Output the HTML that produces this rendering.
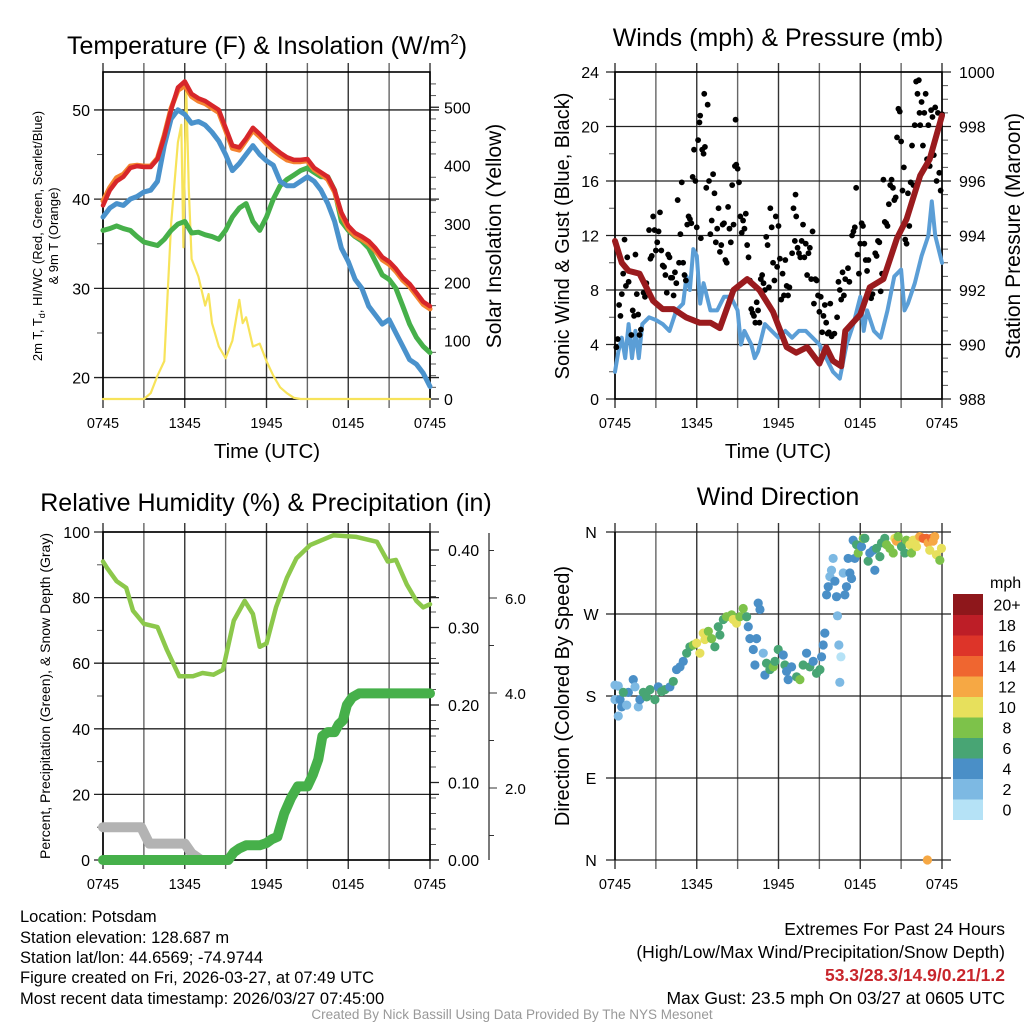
<!DOCTYPE html>
<html><head><meta charset="utf-8"><style>
html,body{margin:0;padding:0;background:#fff;}
svg{display:block;font-family:"Liberation Sans",sans-serif;}
</style></head><body>
<svg id="fig" width="1024" height="1024" viewBox="0 0 1024 1024" xmlns="http://www.w3.org/2000/svg">
<rect width="1024" height="1024" fill="#fff"/>
<g id="layer"></g>
<!-- titles -->
<text x="267" y="54" font-size="25" text-anchor="middle">Temperature (F) &amp; Insolation (W/m<tspan font-size="15" dy="-10">2</tspan><tspan dy="10">)</tspan></text>
<text x="778" y="46" font-size="25" text-anchor="middle">Winds (mph) &amp; Pressure (mb)</text>
<text x="266" y="511" font-size="25" text-anchor="middle">Relative Humidity (%) &amp; Precipitation (in)</text>
<text x="778" y="505" font-size="25" text-anchor="middle">Wind Direction</text>
<!-- axis titles -->
<text x="267" y="458" font-size="20.5" text-anchor="middle">Time (UTC)</text>
<text x="778" y="458" font-size="20.5" text-anchor="middle">Time (UTC)</text>
<text transform="translate(42,236) rotate(-90)" font-size="13" text-anchor="middle">2m T, T<tspan font-size="9" dy="3">d</tspan><tspan dy="-3">, HI/WC (Red, Green, Scarlet/Blue)</tspan></text>
<text transform="translate(58,236) rotate(-90)" font-size="13" text-anchor="middle">&amp; 9m T (Orange)</text>
<text transform="translate(501,236) rotate(-90)" font-size="21" text-anchor="middle">Solar Insolation (Yellow)</text>
<text transform="translate(569,236) rotate(-90)" font-size="20" text-anchor="middle">Sonic Wind &amp; Gust (Blue, Black)</text>
<text transform="translate(1020,236) rotate(-90)" font-size="21" text-anchor="middle">Station Pressure (Maroon)</text>
<text transform="translate(50,696) rotate(-90)" font-size="14" text-anchor="middle">Percent, Precipitation (Green), &amp; Snow Depth (Gray)</text>
<text transform="translate(569,696) rotate(-90)" font-size="20" text-anchor="middle">Direction (Colored By Speed)</text>
<!-- footer -->
<g font-size="16.5">
<text x="20" y="922">Location: Potsdam</text>
<text x="20" y="943">Station elevation: 128.687 m</text>
<text x="20" y="963">Station lat/lon: 44.6569; -74.9744</text>
<text x="20" y="983">Figure created on Fri, 2026-03-27, at 07:49 UTC</text>
<text x="20" y="1004">Most recent data timestamp: 2026/03/27 07:45:00</text>
</g>
<g font-size="17.5" text-anchor="end">
<text x="1005" y="935">Extremes For Past 24 Hours</text>
<text x="1005" y="958">(High/Low/Max Wind/Precipitation/Snow Depth)</text>
<text x="1005" y="981" fill="#c8262c" font-weight="bold">53.3/28.3/14.9/0.21/1.2</text>
<text x="1005" y="1004">Max Gust: 23.5 mph On 03/27 at 0605 UTC</text>
</g>
<text x="512" y="1019" font-size="13.5" fill="#999" text-anchor="middle">Created By Nick Bassill Using Data Provided By The NYS Mesonet</text>
</svg>
<script>
// ---- data ----
const xTickLabels = ["0745","1345","1945","0145","0745"];
const tempTimes = [0,0.5,1,1.5,2,2.5,3,3.5,4,4.5,5,5.5,6,6.5,7,7.5,8,8.5,9,9.5,10,10.5,11,11.5,12,12.5,13,13.5,14,14.5,15,15.5,16,16.5,17,17.5,18,18.5,19,19.5,20,20.5,21,21.5,22,22.5,23,23.5,24];
const tempRed = [39.3,41,42,42.5,43.5,43.7,43.6,43.6,44.5,47,50,52.5,53.2,51.8,51.3,51,50.5,50,48,46,45.8,46.8,48,47.3,46.5,45.8,45.2,44.7,44.4,44.4,44.5,43.5,43,42.5,41,38.5,37,36.2,35.8,35.3,34.5,33.5,33,32.2,31.2,30.5,29.5,28.5,28];
const tempOrange = [39.8,41.3,42.4,42.8,43.7,43.8,43.7,43.7,44.6,47.2,50.2,52.2,52.7,51.5,51,50.7,50.2,49.7,47.7,45.7,45.5,46.6,47.7,47,46.2,45.5,44.9,44.4,44.2,44.2,44.3,43.3,42.8,42.2,40.8,38.2,36.7,35.9,35.5,35,34.2,33.2,32.7,31.9,30.9,30.2,29.2,28.2,27.7];
const tempBlue = [38,39,39.5,39.3,40,40.3,40.8,41,42,46,49,50,49.5,48.5,48.7,48.3,47.5,46.5,45,43.2,44,45,46,45,44.3,43.8,42,41.5,41.5,42,42.5,42,41,39.5,37.5,34.5,33,31,30,28,27,26,26.5,25,23.5,22,21.5,20.5,19];
const tempGreen = [36.5,36.7,37,36.7,36.5,35.8,35.2,35,34.8,35.5,36.5,37.2,37.5,36.2,36.3,36,35.8,35.5,36.5,38,39,39.5,37.5,36.5,38,40,41.5,42.2,42.7,43.2,43.5,43,42.5,42.5,41,37.5,36.5,35.8,35.3,34.5,33,31.5,31,30,28,26,24.5,23.5,22.8];
const solarTimes = [0,3,3.5,4,4.5,5,5.5,5.75,5.9,6.1,6.3,6.5,7,7.5,7.75,8,8.5,9,9.5,10,10.25,10.5,11,11.5,12,12.5,13,13.5,14,14.5,24];
const solarVals = [0,0,10,40,65,300,440,470,260,540,360,240,210,160,180,130,90,70,100,170,130,140,90,95,65,40,20,10,2,0,0];
const windTimes = [0,0.25,0.5,0.75,1,1.25,1.5,1.75,2,2.5,3,3.5,4,4.5,5,5.25,5.5,5.75,6,6.25,6.5,7,7.5,8,8.5,9,9.25,9.5,10,10.25,10.5,11,11.5,12,12.5,13,13.5,14,14.5,15,15.5,16,16.5,17,17.5,18,18.25,18.5,19,19.5,20,20.5,21,21.25,21.5,22,22.5,23,23.25,23.5,24];
const windSpeed = [2,3.5,4.5,3,5.5,3,5,3,5.5,6,5.8,5.5,5,6.5,7,9,8,11,10.5,7,8.5,6.5,6.5,7.5,7.5,6.5,4,5,4,3,3.5,5.5,5,4.5,5,4.5,5,5,4.5,4,3,2,1.5,4,5.5,7.5,5,6.5,5,4.5,6.5,9,9.5,6.5,7,8.5,10.5,12,14.5,12,10];
const presTimes = [0,0.5,1,1.8,2.8,3.5,4.3,5.2,6.2,7,7.7,8.7,9.7,10.6,11.6,12.6,13.3,14.1,15,15.5,16,16.6,16.9,18,18.7,19.7,20.7,21.4,22.4,23.1,24];
const presVals = [993.8,993,992.7,992.6,991.6,991.3,991.3,991,990.8,990.8,990.6,992,992.4,992,991.2,989.9,989.7,989.9,989.3,989.9,989.4,989.2,990.5,991.1,992.1,992.4,993.9,994.6,996.2,996.8,998.4];
const gustTimes = [0.1,0.2,0.3,0.4,0.5,0.6,0.7,0.8,0.9,1,1.2,1.3,1.4,1.5,1.6,1.7,1.8,1.9,2.1,2.2,2.3,2.5,2.6,2.7,2.8,2.9,3,3.1,3.2,3.3,3.4,3.5,3.6,3.7,3.8,3.9,4,4.1,4.2,4.3,4.4,4.5,4.6,4.7,4.8,4.9,5,5.1,5.2,5.3,5.4,5.5,5.6,5.7,5.8,5.9,6,6.1,6.2,6.25,6.3,6.4,6.5,6.55,6.6,6.7,6.8,6.9,7,7.1,7.2,7.3,7.4,7.5,7.6,7.7,7.8,7.9,8,8.1,8.2,8.3,8.4,8.5,8.6,8.7,8.8,8.85,8.9,9,9.1,9.2,9.3,9.4,9.5,9.6,9.7,9.8,9.9,10,10.1,10.2,10.3,10.4,10.5,10.6,10.7,10.8,10.9,11,11.1,11.2,11.3,11.4,11.5,11.6,11.7,11.8,11.9,12,12.1,12.2,12.3,12.4,12.5,12.6,12.7,12.8,13,13.1,13.2,13.25,13.3,13.4,13.5,13.6,13.7,13.8,13.9,14,14.1,14.2,14.3,14.4,14.5,14.6,14.7,14.8,14.9,15,15.1,15.2,15.3,15.4,15.5,15.6,15.7,15.8,15.9,16.1,16.3,16.4,16.5,16.6,16.7,16.8,16.9,17.1,17.2,17.4,17.5,17.6,17.7,17.8,17.9,18,18.1,18.2,18.3,18.4,18.5,18.6,18.7,18.8,18.9,19.1,19.2,19.3,19.4,19.5,19.6,19.7,19.8,19.9,20,20.1,20.2,20.3,20.4,20.5,20.6,20.7,20.8,20.9,21,21.1,21.2,21.3,21.4,21.5,21.6,21.7,21.8,21.9,22,22.1,22.2,22.3,22.35,22.4,22.5,22.6,22.7,22.8,22.9,23,23.1,23.2,23.3,23.4,23.5,23.6,23.7,23.8,23.9,24];
const gustVals = [3.8,4.4,6.9,6.1,7.7,9.2,11.7,8.3,10.4,8.6,4.7,6.5,6.1,10.6,7.7,6.2,4.7,5.1,7.8,7.5,8.5,12.4,10.3,10.5,13.4,12.4,10.9,11.5,12.3,13.7,10.9,9.8,9.7,9.1,7.8,10.6,10.4,8.9,8.9,7.6,9.3,8.5,14.6,10,12.1,15.9,10,9.1,8.7,12.8,13.4,13.2,12.9,16.3,18.3,16,12.6,19,20.3,20.8,11.8,18.3,18,22.4,18.5,15.5,21.6,16,12.1,13.1,16.5,15.1,11.5,12.5,14,10.8,11.3,12.8,12.9,10.2,10,14.1,12.5,11.5,15.7,12.8,17.1,20.5,17.2,16.9,15.9,13.4,12.2,13.1,12.5,13.6,11.3,10.4,8.7,6.6,6.3,6.1,5.6,7.1,6.5,5.6,8.8,9.1,8.5,8,11.9,11.3,8.2,14,12.6,10,8.7,13.4,9.7,12.7,10.3,7.3,9.2,7.6,10.2,8.3,7.6,8.2,10.7,14,11.6,15,13.4,11.1,10.7,10.4,11.6,12.8,10.4,11.4,9.1,10.7,11.1,8.8,12.3,7,8.8,8.7,7.6,6.4,7.5,4.9,6.1,6.9,5.6,4.8,4.9,7,4.6,4.8,6,8.6,8,7.3,9.3,7.6,8.8,9.6,8.6,12,12.3,12.6,15.5,10.6,9.2,11.4,12.9,12.7,11.4,10.2,9.4,10.2,8.1,7.4,7.7,10.7,10.5,11.6,11.5,7.9,9.2,16.1,13,12.9,12.7,14.3,15.7,16.1,15.5,14.6,14.8,19.2,21.3,21.1,18.9,15.3,17,11.7,11.4,15.1,12.7,15.9,18.6,15.7,20.1,23.3,22.4,23.4,21,20.1,21.8,18.6,21,22.4,17.6,20.1,17.1,21.2,20.7,17.9,21.4,16,21,16.6,15.3,20.9];
const rhTimes = [0,0.3,1,1.7,2.2,3,4,4.7,5.6,6.6,7.3,8.1,8.8,9.6,10.4,11,11.5,12,12.7,13.5,14.2,15.2,16.9,18.6,20.1,20.9,21.5,22.3,23,23.5,24];
const rhVals = [91,89,85,83,76,72,71,64,56,56,57,56.5,58,73,79,75,65,66,77,86,92,96,99,98.5,97,91,91.5,84,79,77,78];
const precipTimes = [0,9.2,9.6,10,10.5,11.5,12,12.4,12.8,13.3,13.8,14.3,15,15.4,15.8,16.1,16.5,17,17.3,17.6,17.9,18.3,18.8,24];
const precipVals = [0,0,0.01,0.015,0.019,0.019,0.022,0.027,0.03,0.06,0.08,0.095,0.095,0.11,0.13,0.16,0.165,0.165,0.175,0.18,0.2,0.21,0.215,0.215];
const snowTimes = [0,2.8,3.4,6.0,6.5,7.2];
const snowVals = [10,10,5,5,2,0];
const dirTimes = [0,0.24,0,0.37,0.49,0.24,0.86,0.98,0.61,1.34,1.47,1.71,1.83,2.08,2.32,2.57,2.93,3.18,3.42,3.67,4.03,4.28,4.52,4.77,5.01,5.26,5.5,5.75,5.99,6.23,6.48,6.6,6.85,7.09,7.33,7.58,7.7,7.95,8.19,8.56,8.68,8.92,9.17,9.41,9.66,9.78,9.9,10.15,10.27,10.39,10.51,10.64,10.88,11,11.12,11.37,11.61,11.74,11.98,12.35,12.47,12.59,12.71,12.96,13.33,13.57,13.81,14.06,14.3,14.55,14.79,15.04,15.16,15.28,15.4,15.53,15.65,15.77,15.89,16.01,16.14,16.26,16.33,16.43,16.5,16.58,16.75,16.87,16.99,17.11,17.24,17.36,17.48,17.6,17.73,17.85,18.09,18.22,18.34,18.58,18.7,18.95,19.07,19.19,19.44,19.56,19.8,19.93,20.17,20.42,20.54,20.66,20.78,21.03,21.27,21.39,21.64,21.76,21.88,22.13,22.25,22.37,22.62,22.86,22.98,23.1,23.23,23.35,23.47,23.59,23.84,23.96,22.93];
const dirVals = [192,191,176,176,168,158,170,184,184,198,190,168,176,184,179,187,176,190,185,187,190,196,209,212,218,227,234,236,238,227,249,242,251,243,234,256,247,264,267,269,264,260,267,276,267,256,243,231,214,243,282,275,227,203,216,209,212,218,231,225,214,207,198,212,201,198,214,227,212,218,205,209,223,236,249,291,300,311,318,331,306,289,268,236,195,223,315,291,300,331,315,309,351,331,346,337,344,353,353,328,337,340,318,342,333,348,353,346,342,337,353,350,355,344,337,351,346,337,351,344,353,355,353,353,348,340,353,350,355,335,329,342,0];
const dirSpeed = [3,3,3,5,5,3,3,5,7,5,3,3,5,7,7,7,7,5,7,7,5,7,5,5,5,7,7,9,11,11,11,11,9,9,7,7,7,7,9,9,11,11,9,9,7,5,5,5,5,5,5,5,3,5,7,7,9,7,7,5,7,5,5,5,7,9,7,5,7,5,7,7,5,5,5,5,5,3,3,3,5,5,3,3,3,1,3,5,5,5,5,5,5,5,7,9,5,9,7,7,5,5,5,7,7,7,7,9,9,9,11,13,9,7,7,9,11,9,11,11,11,13,15,15,13,11,15,13,13,11,9,11,13];
const speedBins = ["0","2","4","6","8","10","12","14","16","18","20+"];
const speedColors = ["#b5e2f6","#7db9e3","#4a8fc7","#48a574","#7dc24a","#e7e05c","#f6a844","#ef6630","#dd3429","#bd1e27","#8e171b"];

// ---- drawing ----
const NS="http://www.w3.org/2000/svg";
const layer=document.getElementById('layer');
function mk(tag,attrs,parent){const e=document.createElementNS(NS,tag);for(const k in attrs)e.setAttribute(k,attrs[k]);(parent||layer).appendChild(e);return e;}
function lin(d0,d1,r0,r1){return v=>r0+(v-d0)/(d1-d0)*(r1-r0);}

const P1={x0:103,x1:430,y0:72,y1:399};
const P2={x0:615,x1:942,y0:72,y1:399};
const P3={x0:103,x1:430,y0:532,y1:860};
const P4={x0:615,x1:942,y0:532,y1:860};

function frame(p,name){
  const g=mk('g',{});
  
  
  const sx=lin(0,24,p.x0,p.x1);
  for(let h=0;h<=24;h+=3){
    const l=mk('line',{x1:sx(h),x2:sx(h),y1:p.y0-9,y2:p.y1+9,stroke:(h%6===0)?'#333':'#666','stroke-width':1.4},g);
    
    
  }
  for(let i=0;i<xTickLabels.length;i++){
    const t=mk('text',{x:sx(i*6),y:p.y1+29,'font-size':14.5,'text-anchor':'middle'},g);
    t.textContent=xTickLabels[i];
    
    
  }
  return sx;
}
function hgrid(p,ys,g,left,right){
  ys.forEach(y=>{mk('line',{x1:p.x0-(left||9),x2:p.x1+(right||9),y1:y,y2:y,stroke:'#222','stroke-width':1.3},g);});
}
function poly(xs,ys,sx,sy,attrs,name){
  let d='';
  for(let i=0;i<xs.length;i++)d+=(i?'L':'M')+sx(xs[i]).toFixed(1)+','+sy(ys[i]).toFixed(1);
  const e=mk('path',Object.assign({d:d,fill:'none','stroke-linejoin':'round','stroke-linecap':'round'},attrs));
  
  
  return e;
}
function label(x,y,txt,anchor,size,name){const t=mk('text',{x:x,y:y,'font-size':size||16,'text-anchor':anchor});t.textContent=txt;return t;}
function tick(x1,x2,y){mk('line',{x1:x1,x2:x2,y1:y,y2:y,stroke:'#555','stroke-width':1});}

// Panel 1
{
  const p=P1, sx=frame(p,'temperature');
  const sy=lin(17.6,54.25,p.y1,p.y0), sr=lin(0,560,p.y1,p.y1-560*0.5835);
  const g=mk('g',{});
  hgrid(p,[20,30,40,50].map(sy),g);
  [25,35,45].forEach(v=>tick(p.x0-6,p.x0,sy(v)));
  for(let v=20;v<=540;v+=20){if(v%100)tick(p.x1,p.x1+6,sr(v));}
  mk('line',{x1:p.x1,x2:p.x1+9,y1:sr(0),y2:sr(0),stroke:'#222','stroke-width':1.3});
  mk('line',{x1:p.x1,x2:p.x1+9,y1:sr(500),y2:sr(500),stroke:'#222','stroke-width':1.3});
  mk('rect',{x:p.x0,y:p.y0,width:p.x1-p.x0,height:p.y1-p.y0,fill:'none',stroke:'#000','stroke-width':1.6});
  [20,30,40,50].forEach(v=>label(p.x0-13,sy(v)+6,String(v),'end',16,'temp-y-tick-label'));
  [0,100,200,300,400,500].forEach(v=>label(p.x1+14,sr(v)+6,String(v),'start',16,'insolation-y-tick-label'));
  poly(solarTimes,solarVals,sx,sr,{stroke:'#f7e35a','stroke-width':2.2},'solar-insolation-line');
  poly(tempTimes,tempGreen,sx,sy,{stroke:'#46b04a','stroke-width':5},'dewpoint-line');
  poly(tempTimes,tempBlue,sx,sy,{stroke:'#4a92cc','stroke-width':5},'heat-index-wind-chill-line');
  poly(tempTimes,tempOrange,sx,sy,{stroke:'#f4822f','stroke-width':5},'9m-temperature-line');
  poly(tempTimes,tempRed,sx,sy,{stroke:'#d7262a','stroke-width':4.5},'2m-temperature-line');
}
// Panel 2
{
  const p=P2, sx=frame(p,'winds');
  const sy=lin(0,24,p.y1,p.y0), sp=lin(988,1000,p.y1,p.y0);
  const g=mk('g',{});
  hgrid(p,[0,4,8,12,16,20,24].map(sy),g);
  for(let v=988.5;v<1000;v+=0.5){if(v%2)tick(p.x1,p.x1+6,sp(v));}
  [2,6,10,14,18,22].forEach(v=>tick(p.x0-6,p.x0,sy(v)));
  mk('rect',{x:p.x0,y:p.y0,width:p.x1-p.x0,height:p.y1-p.y0,fill:'none',stroke:'#000','stroke-width':1.6});
  [0,4,8,12,16,20,24].forEach(v=>label(p.x0-16,sy(v)+6,String(v),'end',16,'wind-y-tick-label'));
  [988,990,992,994,996,998,1000].forEach(v=>label(p.x1+17,sp(v)+6,String(v),'start',16,'pressure-y-tick-label'));
  poly(windTimes,windSpeed,sx,sy,{stroke:'#5b9ed6','stroke-width':4},'sonic-wind-line');
  for(let i=0;i<gustTimes.length;i++){
    const c=mk('circle',{cx:sx(gustTimes[i]),cy:sy(gustVals[i]),r:2.9,fill:'#000'});
    
    
  }
  poly(presTimes,presVals,sx,sp,{stroke:'#9a1b1e','stroke-width':6},'station-pressure-line');
}
// Panel 3
{
  const p=P3, sx=frame(p,'humidity');
  const sy=lin(0,100,p.y1,p.y0), spr=lin(0,0.4,p.y1,550);
  const g=mk('g',{});
  hgrid(p,[0,20,40,60,80,100].map(sy),g);
  [10,30,50,70,90].forEach(v=>tick(p.x0-6,p.x0,sy(v)));
  for(let v=0.02;v<0.42;v+=0.02){if(Math.round(v*100)%10)tick(p.x1,p.x1+6,spr(v));}
  [0,0.1,0.2,0.3,0.4].forEach(v=>mk('line',{x1:p.x1,x2:p.x1+9,y1:spr(v),y2:spr(v),stroke:'#222','stroke-width':1.3}));
  mk('rect',{x:p.x0,y:p.y0,width:p.x1-p.x0,height:p.y1-p.y0,fill:'none',stroke:'#000','stroke-width':1.6});
  [0,20,40,60,80,100].forEach(v=>label(p.x0-13,sy(v)+6,String(v),'end',16,'humidity-y-tick-label'));
  [0,0.1,0.2,0.3,0.4].forEach(v=>label(p.x1+18,spr(v)+6,v.toFixed(2),'start',16,'precip-y-tick-label'));
  // snow depth axis
  const ss=lin(0,2,883,788);
  mk('line',{x1:489,x2:489,y1:p.y0+1,y2:p.y1,stroke:'#333','stroke-width':1.3});
  for(let v=1;v<=7;v+=1){mk('line',{x1:489,x2:v%2?494:497,y1:ss(v),y2:ss(v),stroke:'#333','stroke-width':1});}
  [2,4,6].forEach(v=>label(505,ss(v)+6,v.toFixed(1),'start',15,'snow-depth-tick-label'));
  poly(snowTimes,snowVals,sx,sy,{stroke:'#b3b3b3','stroke-width':10},'snow-depth-line');
  poly(precipTimes,precipVals,sx,spr,{stroke:'#46b04a','stroke-width':10},'precipitation-line');
  poly(rhTimes,rhVals,sx,sy,{stroke:'#8cc84b','stroke-width':4.5},'relative-humidity-line');
}
// Panel 4
{
  const p=P4, sx=frame(p,'wind-direction');
  const sy=lin(0,360,p.y1,p.y0);
  const g=mk('g',{});
  hgrid(p,[0,90,180,270,360].map(sy),g,9,9);
  mk('line',{x1:p.x0,x2:p.x0,y1:p.y0,y2:p.y1,stroke:'#000','stroke-width':1.6});
  ['N','E','S','W','N'].forEach((t,i)=>label(591,sy(i*90)+6,t,'middle',16,'direction-tick-label'));
  for(let i=0;i<dirTimes.length;i++){
    const bi=Math.min(10,Math.floor(dirSpeed[i]/2));
    const c=mk('circle',{cx:sx(dirTimes[i]),cy:sy(dirVals[i]),r:4.6,fill:speedColors[bi]});
    
    
  }
  // colorbar
  const cb=mk('g',{});
  
  
  const h=20.5, top=594;
  for(let i=0;i<speedBins.length;i++){
    const y=top+(10-i)*h;
    mk('rect',{x:953,y:y,width:30,height:h+0.5,fill:speedColors[i]},cb);
    const t=mk('text',{x:1007,y:y+h/2+6,'font-size':16,'text-anchor':'middle'},cb);
    t.textContent=speedBins[i];
  }
  const u=mk('text',{x:990,y:588,'font-size':16},cb);
  u.textContent='mph';
}
</script>
</body></html>
